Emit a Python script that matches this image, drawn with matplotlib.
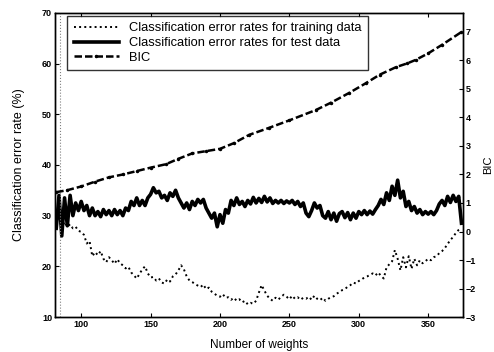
import matplotlib
matplotlib.use("Agg")
import matplotlib.pyplot as plt
import numpy as np

plt.rcParams['font.family'] = ['Liberation Sans', 'DejaVu Sans']

# number of weights, one sample every 2 weights
weights = np.arange(82, 376, 2)

# classification error rate on test data (%)
test_err = [
    27.5, 34.0, 26.0, 33.5, 28.0, 34.0, 30.0, 32.5, 31.0, 32.8,
    31.0, 32.0, 30.0, 31.5, 30.0, 30.8, 29.8, 31.2, 30.2, 31.0,
    30.0, 31.2, 30.2, 31.0, 30.0, 31.5, 31.0, 32.8, 32.0, 33.5,
    32.0, 33.0, 32.0, 33.5, 34.2, 35.5, 34.5, 34.8, 33.5, 34.0,
    33.0, 34.5, 33.8, 35.0, 33.5, 32.5, 31.5, 32.5, 31.2, 32.8,
    32.0, 33.2, 32.5, 33.2, 31.5, 30.5, 29.5, 30.5, 27.8, 30.2,
    28.5, 31.2, 30.5, 33.0, 32.0, 33.5, 32.2, 32.8, 31.8, 33.0,
    32.3, 33.6, 32.5, 33.4, 32.6, 33.8, 32.7, 33.5, 32.4, 33.0,
    32.5, 33.0, 32.4, 32.9, 32.5, 33.0, 32.2, 32.8, 31.8, 32.5,
    30.5, 29.8, 31.0, 32.5, 31.5, 32.0, 30.0, 29.5, 30.8, 29.2,
    30.5, 28.9, 30.4, 30.8, 29.6, 30.6, 29.2, 30.5, 29.5, 30.8,
    30.2, 31.0, 30.2, 30.9, 30.3, 31.2, 32.0, 33.2, 32.2, 34.5,
    33.0, 35.8, 34.0, 37.0, 33.5, 34.8, 31.8, 32.8, 31.0, 31.8,
    30.5, 31.2, 30.2, 30.8, 30.3, 30.8, 30.2, 31.0, 32.3, 33.0,
    32.0, 33.8, 32.6, 34.0, 32.8, 33.8, 28.5,
]

# classification error rate on training data (%)
train_err = [
    28.5, 29.5, 27.5, 28.8, 27.8, 28.3, 27.5, 27.8, 27.0, 26.8,
    26.2, 24.5, 25.0, 22.0, 22.8, 22.2, 23.0, 21.5, 20.8, 21.8,
    21.2, 20.5, 21.4, 20.6, 20.2, 19.6, 19.9, 18.8, 18.2, 17.6,
    18.5, 19.4, 20.0, 18.6, 17.8, 17.9, 17.2, 17.6, 16.8, 16.6,
    17.4, 17.0, 18.0, 18.4, 19.2, 20.2, 19.4, 18.0, 17.2, 16.9,
    16.5, 16.2, 15.9, 16.4, 15.5, 15.8, 15.0, 14.6, 14.2, 14.0,
    14.5, 13.8, 13.9, 13.4, 13.8, 13.2, 13.5, 12.9, 13.2, 12.5,
    12.8, 12.6, 13.2, 14.8, 16.3, 15.2, 14.2, 13.6, 13.2, 13.8,
    13.4, 14.0, 14.4, 14.0, 13.5, 14.2, 13.6, 13.9, 13.4, 13.8,
    13.6, 14.0, 13.4, 14.2, 13.6, 13.3, 13.8, 13.2, 13.6, 13.9,
    14.1, 14.6, 14.9, 15.3, 15.5, 16.0, 16.3, 16.8, 16.6, 17.1,
    17.4, 17.8, 18.0, 18.3, 18.6, 18.2, 18.8, 18.1, 17.6, 19.8,
    20.4, 21.0, 23.2, 21.5, 19.2, 21.8, 19.8, 22.0, 19.5, 21.5,
    20.2, 21.2, 20.6, 21.0, 21.5, 21.2, 21.8, 22.0, 22.6, 23.0,
    23.6, 24.4, 25.2, 25.8, 26.6, 27.2, 27.6,
]

# BIC (right axis)
bic_w = [82, 90, 100, 110, 120, 130, 140, 150, 161, 170, 180, 190, 200,
         210, 221, 235, 250, 269, 280, 293, 305, 315, 327, 335, 341, 350,
         360, 374]
bic = [1.38, 1.45, 1.58, 1.75, 1.9, 2.0, 2.12, 2.24, 2.36, 2.55, 2.74, 2.82,
       2.9, 3.1, 3.39, 3.63, 3.9, 4.26, 4.52, 4.86, 5.2, 5.5, 5.77, 5.9,
       6.02, 6.25, 6.55, 7.0]

fig = plt.figure(figsize=(4.94, 3.52), dpi=100)
ax = fig.add_axes([0.111, 0.0994, 0.826, 0.864])
ax2 = ax.twinx()

l1, = ax.plot(weights, train_err, color='black', lw=1.4, ls=':')
l2, = ax.plot(weights, test_err, color='black', lw=2.6, ls='-')
l3, = ax2.plot(bic_w, bic, color='black', lw=1.8, ls=(0, (3, 1.2)),
               marker='.', markersize=3)
ax.axvline(84.5, color='gray', lw=0.8, ls=':')

ax.set_xlim(81, 375)
ax.set_ylim(10, 70)
ax2.set_ylim(-3, 7.67)
ax.set_xticks([100, 150, 200, 250, 300, 350])
ax.set_yticks([10, 20, 30, 40, 50, 60, 70])
ax2.set_yticks([-3, -2, -1, 0, 1, 2, 3, 4, 5, 6, 7])

for a in (ax, ax2):
    a.tick_params(direction='in', length=3, width=0.8, labelsize=6.5,
                  pad=2)
    for s in a.spines.values():
        s.set_linewidth(1.0)
ax.tick_params(top=True)
for lab in ax.get_xticklabels() + ax.get_yticklabels() + ax2.get_yticklabels():
    lab.set_fontweight('bold')

ax.set_xlabel('Number of weights', fontsize=8.5, labelpad=7)
ax.set_ylabel('Classification error rate (%)', fontsize=9, labelpad=12)
ax2.set_ylabel('BIC', fontsize=8, labelpad=5)

leg = ax.legend([l1, l2, l3],
                ['Classification error rates for training data',
                 'Classification error rates for test data',
                 'BIC'],
                loc='upper left', bbox_to_anchor=(0.03, 0.99),
                borderaxespad=0, fontsize=9.3, frameon=True, fancybox=False,
                edgecolor='black', handlelength=3.5, borderpad=0.5,
                labelspacing=0.2, handletextpad=0.8)
leg.get_frame().set_linewidth(1.0)

fig.savefig('out.png', dpi=100)
